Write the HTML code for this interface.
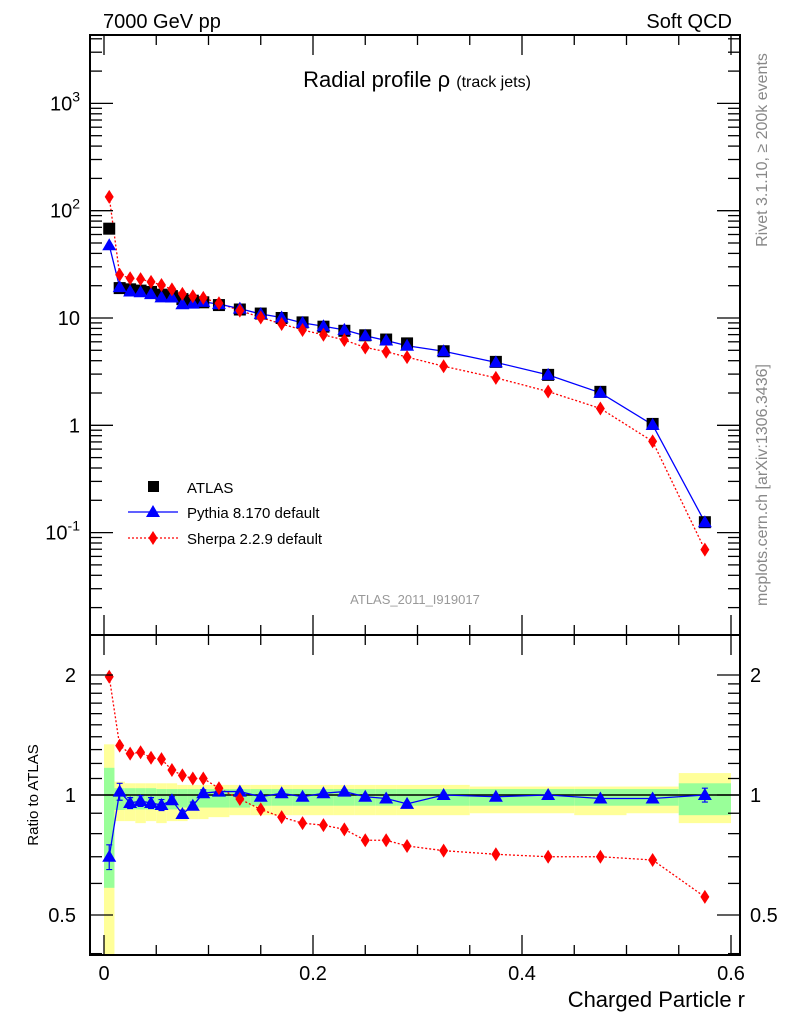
<!DOCTYPE html>
<html><head><meta charset="utf-8"><style>body{margin:0;background:#fff}svg{display:block;font-family:"Liberation Sans",sans-serif}</style></head>
<body>
<svg id="c" width="786" height="1024" viewBox="0 0 786 1024" xmlns="http://www.w3.org/2000/svg">
<g id="bands"></g>
<g id="marks"></g>
<rect x="90" y="35" width="650" height="600" fill="none" stroke="#000" stroke-width="2"/>
<rect x="90" y="635" width="650" height="320" fill="none" stroke="#000" stroke-width="2"/>
<g id="axes"></g>
<text x="103" y="28" font-size="20">7000 GeV pp</text>
<text x="732" y="28" font-size="20" text-anchor="end">Soft QCD</text>
<text x="417" y="87" font-size="22" text-anchor="middle">Radial profile ρ <tspan font-size="16">(track jets)</tspan></text>
<text x="415" y="604" font-size="13" fill="#999" text-anchor="middle">ATLAS_2011_I919017</text>
<text transform="translate(767,150) rotate(-90)" font-size="16" fill="#888" text-anchor="middle">Rivet 3.1.10, ≥ 200k events</text>
<text transform="translate(767,485) rotate(-90)" font-size="16" fill="#888" text-anchor="middle">mcplots.cern.ch [arXiv:1306.3436]</text>
<text transform="translate(38,795) rotate(-90)" font-size="15" text-anchor="middle">Ratio to ATLAS</text>
<text x="745" y="1007" font-size="22" text-anchor="end">Charged Particle r</text>
<g>
<rect x="148" y="481" width="11" height="11" fill="#000"/>
<text x="187" y="493" font-size="15">ATLAS</text>
<line x1="128" y1="512" x2="178" y2="512" stroke="#00f" stroke-width="1.3"/>
<polygon points="153,505 160,517 146,517" fill="#00f"/>
<text x="187" y="518" font-size="15">Pythia 8.170 default</text>
<line x1="128" y1="538" x2="178" y2="538" stroke="#f00" stroke-width="1.3" stroke-dasharray="2,2"/>
<polygon points="153,531 157.5,538 153,545 148.5,538" fill="#f00"/>
<text x="187" y="544" font-size="15">Sherpa 2.2.9 default</text>
</g>
</svg>
<script>
const xCenters=[0.005,0.015,0.025,0.035,0.045,0.055,0.065,0.075,0.085,0.095,0.11,0.13,0.15,0.17,0.19,0.21,0.23,0.25,0.27,0.29,0.325,0.375,0.425,0.475,0.525,0.575];
const xWidths=[0.01,0.01,0.01,0.01,0.01,0.01,0.01,0.01,0.01,0.01,0.02,0.02,0.02,0.02,0.02,0.02,0.02,0.02,0.02,0.02,0.05,0.05,0.05,0.05,0.05,0.05];
const atlas=[68,19,18.5,18,17.5,16.5,16,15,14.5,14,13.2,12,11,10,9.1,8.3,7.6,6.9,6.3,5.8,4.9,3.9,2.95,2.05,1.03,0.125];
const pythiaRatio=[0.70,1.02,0.955,0.966,0.955,0.944,0.97,0.896,0.94,1.01,1.02,1.02,0.99,1.01,0.99,1.01,1.02,0.99,0.98,0.95,1.0,0.99,1.0,0.98,0.98,1.0];
const pythiaErr=[0.05,0.05,0.03,0.03,0.03,0.03,0.02,0.02,0.02,0.02,0.01,0.01,0.01,0.01,0.01,0.01,0.01,0.01,0.01,0.01,0.01,0.01,0.01,0.01,0.01,0.04];
const sherpaRatio=[1.98,1.33,1.27,1.28,1.24,1.23,1.155,1.12,1.10,1.10,1.04,0.977,0.92,0.88,0.85,0.84,0.82,0.77,0.77,0.745,0.725,0.71,0.70,0.70,0.687,0.555];
const totLo=[0.3,0.86,0.86,0.85,0.86,0.85,0.86,0.86,0.87,0.87,0.88,0.89,0.89,0.89,0.89,0.89,0.89,0.89,0.89,0.89,0.89,0.9,0.9,0.89,0.9,0.85];
const totHi=[1.34,1.08,1.07,1.07,1.07,1.07,1.07,1.06,1.06,1.06,1.06,1.06,1.06,1.06,1.06,1.06,1.06,1.06,1.06,1.06,1.06,1.05,1.05,1.05,1.05,1.135];
const statLo=[0.585,0.917,0.92,0.92,0.92,0.92,0.92,0.93,0.93,0.93,0.93,0.93,0.94,0.94,0.94,0.94,0.94,0.94,0.94,0.94,0.94,0.94,0.94,0.94,0.94,0.89];
const statHi=[1.17,1.04,1.04,1.04,1.04,1.035,1.035,1.035,1.035,1.035,1.035,1.035,1.035,1.035,1.035,1.035,1.035,1.035,1.035,1.035,1.035,1.035,1.035,1.035,1.035,1.07];
const xTicks=[0,0.2,0.4,0.6];
const yTicks=[-1,0,1,2,3];
const rTicks=[0.5,1,2];

const NS='http://www.w3.org/2000/svg';
const X=v=>104+v*1045;
const Y=v=>318-(Math.log10(v)-1)*107.3;
const R=v=>795-Math.log10(v)*398.6;
const clampR=y=>Math.max(635,Math.min(955,y));
function mk(par,tag,at){const e=document.createElementNS(NS,tag);for(const k in at)e.setAttribute(k,at[k]);document.getElementById(par).appendChild(e);return e;}

xCenters.forEach((c,i)=>{
 const x0=X(c-xWidths[i]/2),w=xWidths[i]*1045;
 let y1=clampR(R(totHi[i])),y2=clampR(R(totLo[i]));
 let e=mk('bands','rect',{x:x0,y:y1,width:w,height:y2-y1,fill:'#ffff99'});
 
 
 y1=clampR(R(statHi[i]));y2=clampR(R(statLo[i]));
 e=mk('bands','rect',{x:x0,y:y1,width:w,height:y2-y1,fill:'#99ff99'});
 
 
});
let ln=mk('bands','line',{x1:90,x2:740,y1:R(1),y2:R(1),stroke:'#000','stroke-width':1.5});



const pythia=atlas.map((a,i)=>a*pythiaRatio[i]);
const sherpa=atlas.map((a,i)=>a*sherpaRatio[i]);
function line(pts,col,dash,name){const e=mk('marks','polyline',{points:pts.join(' '),fill:'none',stroke:col,'stroke-width':1.3});if(dash)e.setAttribute('stroke-dasharray','2,2');}
function tri(x,y,name){const e=mk('marks','polygon',{points:`${x},${y-7} ${x+7},${y+5} ${x-7},${y+5}`,fill:'#00f'});}
function dia(x,y,name){const e=mk('marks','polygon',{points:`${x},${y-7} ${x+4.5},${y} ${x},${y+7} ${x-4.5},${y}`,fill:'#f00'});}
line(xCenters.map((c,i)=>X(c)+','+Y(sherpa[i])),'#f00',true,'sherpa-line');
line(xCenters.map((c,i)=>X(c)+','+Y(pythia[i])),'#00f',false,'pythia-line');
xCenters.forEach((c,i)=>{
 const e=mk('marks','rect',{x:X(c)-6,y:Y(atlas[i])-6,width:12,height:12,fill:'#000'});
 
 
});
xCenters.forEach((c,i)=>{tri(X(c),Y(pythia[i]),'pythia-point');dia(X(c),Y(sherpa[i]),'sherpa-point');});
line(xCenters.map((c,i)=>X(c)+','+R(sherpaRatio[i])),'#f00',true,'sherpa-ratio-line');
line(xCenters.map((c,i)=>X(c)+','+R(pythiaRatio[i])),'#00f',false,'pythia-ratio-line');
xCenters.forEach((c,i)=>{
 const x=X(c),ya=R(pythiaRatio[i]+pythiaErr[i]),yb=R(pythiaRatio[i]-pythiaErr[i]);
 const e=mk('marks','path',{d:`M${x},${ya}V${yb}M${x-3},${ya}H${x+3}M${x-3},${yb}H${x+3}`,stroke:'#00f','stroke-width':1.2,fill:'none'});
 
 
});
xCenters.forEach((c,i)=>{tri(X(c),R(pythiaRatio[i]),'pythia-ratio-point');dia(X(c),R(sherpaRatio[i]),'sherpa-ratio-point');});

function tk(x1,y1,x2,y2){mk('axes','line',{x1,y1,x2,y2,stroke:'#000','stroke-width':1.3});}
function tx(x,y,s,anchor,size){const e=mk('axes','text',{x,y,'font-size':size||20,'text-anchor':anchor});e.textContent=s;return e;}
for(let v=0;v<=0.6001;v+=0.05){const maj=Math.abs(v/0.2-Math.round(v/0.2))<1e-6;const L=maj?20:10;const x=X(v);
 tk(x,955,x,955-L);tk(x,635,x,635-L);tk(x,635,x,635+L);tk(x,35,x,35+L);}
xTicks.forEach(v=>tx(X(v),980,String(v),'middle',20));
for(let d=-2;d<=3;d++){for(let m=1;m<10;m++){const v=m*Math.pow(10,d);const y=Y(v);if(y<35||y>635)continue;const L=m==1?23:12;tk(90,y,90+L,y);tk(740,y,740-L,y);}}
yTicks.forEach(d=>{const y=Y(Math.pow(10,d));let s;
 if(d==0)s='1';else if(d==1)s='10';else{const e=tx(80,y+7,'10','end',20);const t=document.createElementNS(NS,'tspan');t.setAttribute('dy','-9');t.setAttribute('font-size','14');t.textContent=String(d);e.appendChild(t);return;}
 tx(80,y+7,s,'end',20);});
[0.4,0.5,0.6,0.7,0.8,0.9,1,2].forEach(v=>{const y=R(v);const maj=rTicks.includes(v);const L=maj?23:12;tk(90,y,90+L,y);tk(740,y,740-L,y);});
for(let v=1.1;v<2;v+=0.1){const y=R(v);tk(90,y,102,y);tk(740,y,728,y);}
rTicks.forEach(v=>{tx(76,R(v)+7,String(v),'end',20);tx(750,R(v)+7,String(v),'start',20);});
</script>
</body></html>
